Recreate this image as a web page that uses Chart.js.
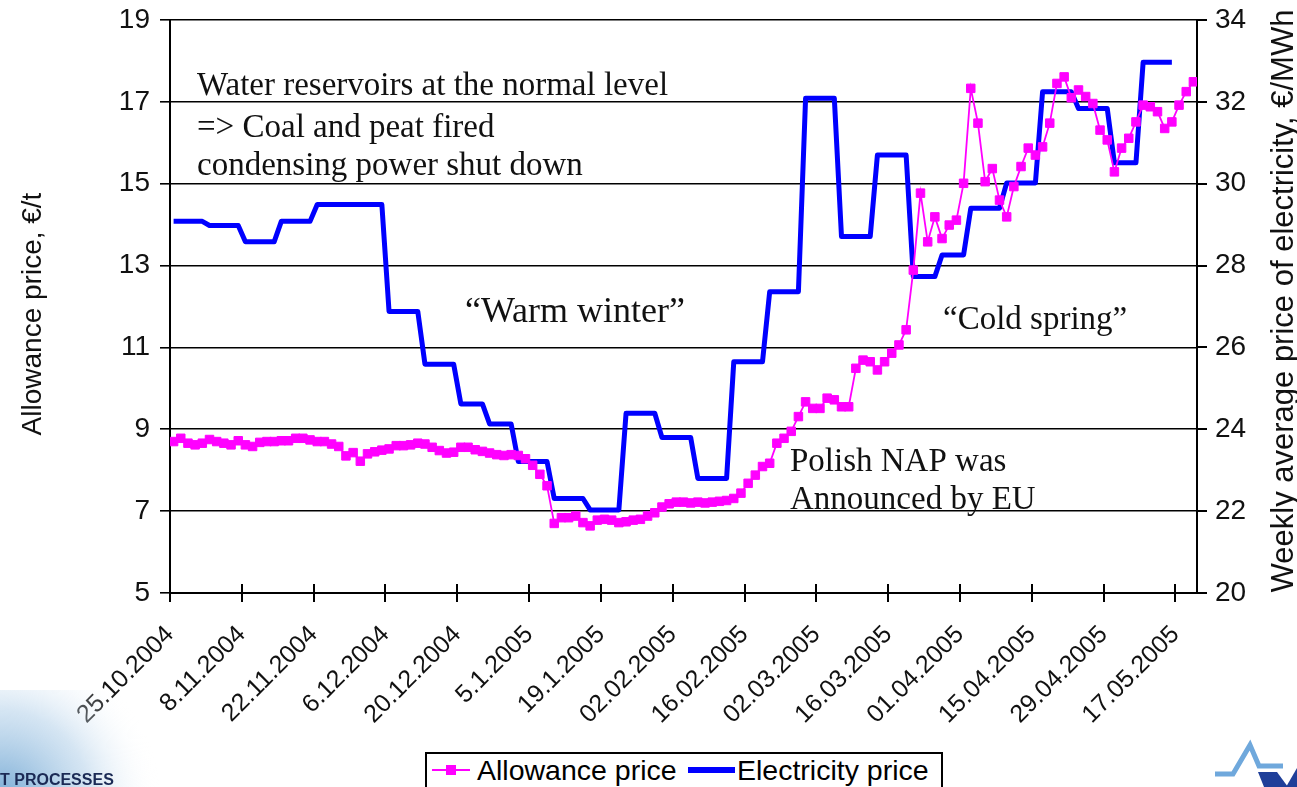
<!DOCTYPE html>
<html>
<head>
<meta charset="utf-8">
<script src="https://cdn.jsdelivr.net/npm/chart.js@4.4.1/dist/chart.umd.min.js"></script>
<style>
  html, body { margin: 0; padding: 0; background: #fff; overflow: hidden; }
  #wrap { position: relative; width: 1297px; height: 787px; }
  #legend {
    position: absolute; left: 425px; top: 752px; width: 514px; height: 60px;
    border: 2px solid #000; background: #fff;
    font-family: "Liberation Sans", Arial, sans-serif; font-size: 28.5px; color: #000;
  }
  #legend span { position: absolute; }
  .lbl { top: 0px; line-height: 33px; white-space: nowrap; }
</style>
</head>
<body>
<div id="wrap">
  <canvas id="priceChart" width="1297" height="787"></canvas>
  <div id="legend">
    <span style="left:5px; top:15px; width:38px; height:2px; background:#ff00ff;"></span>
    <span style="left:19px; top:11px; width:10px; height:10px; background:#ff00ff;"></span>
    <span class="lbl" style="left:50px;">Allowance price</span>
    <span style="left:261px; top:13px; width:47px; height:6px; background:#0000ff;"></span>
    <span class="lbl" style="left:310px;">Electricity price</span>
  </div>
</div>
<script>
// tick labels every 10 trading days
const tickLabels = [
  "25.10.2004", "8.11.2004", "22.11.2004", "6.12.2004", "20.12.2004",
  "5.1.2005", "19.1.2005", "02.02.2005", "16.02.2005", "02.03.2005",
  "16.03.2005", "01.04.2005", "15.04.2005", "29.04.2005", "17.05.2005"
];

// daily allowance price, €/t (one value per trading day)
const allowancePrice = [
  8.70, 8.78, 8.66, 8.62, 8.66, 8.75, 8.70, 8.66, 8.62, 8.72,
  8.62, 8.58, 8.68, 8.70, 8.70, 8.72, 8.72, 8.78, 8.78, 8.74,
  8.70, 8.70, 8.64, 8.58, 8.35, 8.43, 8.22, 8.40, 8.45, 8.49,
  8.52, 8.60, 8.60, 8.62, 8.66, 8.64, 8.56, 8.48, 8.42, 8.44,
  8.56, 8.56, 8.50, 8.46, 8.42, 8.38, 8.36, 8.38, 8.36, 8.28,
  8.12, 7.90, 7.62, 6.70, 6.84, 6.84, 6.88, 6.72, 6.64, 6.78,
  6.80, 6.78, 6.72, 6.74, 6.78, 6.80, 6.88, 6.96, 7.10, 7.18,
  7.22, 7.22, 7.20, 7.22, 7.20, 7.22, 7.24, 7.26, 7.31, 7.44,
  7.68, 7.88, 8.09, 8.17, 8.66, 8.78, 8.95, 9.31, 9.67, 9.51,
  9.51, 9.76, 9.72, 9.55, 9.55, 10.49, 10.69, 10.65, 10.45, 10.65,
  10.86, 11.06, 11.43, 12.89, 14.77, 13.58, 14.19, 13.66, 13.99, 14.11,
  15.01, 17.33, 16.48, 15.05, 15.37, 14.60, 14.19, 14.93, 15.42, 15.87,
  15.70, 15.90, 16.48, 17.45, 17.61, 17.10, 17.29, 17.13, 16.96, 16.31,
  16.07, 15.29, 15.87, 16.11, 16.51, 16.92, 16.88, 16.76, 16.35, 16.51,
  16.92, 17.25, 17.49
];

// weekly electricity price, €/MWh: first and last trading day of each week
const elecWeekStart = [0, 5, 10, 15, 20, 30, 35, 40, 44, 48, 53, 58, 63, 68,
  73, 78, 83, 88, 93, 98, 103, 107, 111, 116, 121, 126, 131, 135];
const elecWeekEnd = [4, 9, 14, 19, 29, 34, 39, 43, 47, 52, 57, 62, 67, 72,
  77, 82, 87, 92, 97, 102, 106, 110, 115, 120, 125, 130, 134, 139];
const elecWeekPrice = [29.08, 28.98, 28.58, 29.08, 29.49, 26.88, 25.59, 24.62, 24.13, 23.21,
  22.31, 22.03, 24.39, 23.80, 22.80, 25.65, 27.36, 32.09, 28.71, 30.70,
  27.73, 28.26, 29.40, 30.02, 32.25, 31.84, 30.51, 32.97];

const sansFont = "'Liberation Sans', Arial, sans-serif";
const serifFont = "'Liberation Serif', 'Times New Roman', serif";

const notes = [
  { text: "Water reservoirs at the normal level", x: 197, y: 95, size: 33 },
  { text: "=> Coal and peat fired", x: 197, y: 137, size: 33 },
  { text: "condensing power shut down", x: 197, y: 175, size: 33 },
  { text: "\u201cWarm winter\u201d", x: 465, y: 322, size: 36 },
  { text: "\u201cCold spring\u201d", x: 943, y: 329, size: 33 },
  { text: "Polish NAP was", x: 790, y: 471, size: 33 },
  { text: "Announced by EU", x: 790, y: 509, size: 33 }
];

function buildAllowancePoints() {
  return allowancePrice.map(function (v, i) {
    return { x: i, y: v };
  });
}

function buildElecPoints() {
  const pts = [];
  elecWeekPrice.forEach(function (v, k) {
    pts.push({ x: elecWeekStart[k], y: v });
    pts.push({ x: elecWeekEnd[k], y: v });
  });
  return pts;
}

function fixYAxis(width) {
  return function (scale) {
    scale.width = width;
    scale.paddingTop = 0;
    scale.paddingBottom = 0;
  };
}

const extrasPlugin = {
  id: "extras",
  afterDraw: function (chart) {
    const ctx = chart.ctx;
    const xScale = chart.scales.x;
    const area = chart.chartArea;

    // inner half of the x axis tick marks
    ctx.save();
    ctx.strokeStyle = "#000";
    ctx.lineWidth = 2;
    xScale.ticks.forEach(function (t) {
      const px = Math.round(xScale.getPixelForValue(t.value));
      ctx.beginPath();
      ctx.moveTo(px, area.bottom);
      ctx.lineTo(px, area.bottom - 9);
      ctx.stroke();
    });
    ctx.restore();

    // annotations
    ctx.save();
    ctx.fillStyle = "#111";
    ctx.textBaseline = "alphabetic";
    notes.forEach(function (n) {
      ctx.font = n.size + "px " + serifFont;
      ctx.fillText(n.text, n.x, n.y);
    });
    ctx.restore();

    // axis titles (both read bottom to top)
    ctx.save();
    ctx.fillStyle = "#111";
    ctx.textAlign = "center";
    ctx.textBaseline = "middle";
    ctx.translate(33, 314);
    ctx.rotate(-Math.PI / 2);
    ctx.font = "28px " + sansFont;
    ctx.fillText("Allowance price, \u20ac/t", 0, 0);
    ctx.restore();

    ctx.save();
    ctx.fillStyle = "#111";
    ctx.textAlign = "center";
    ctx.textBaseline = "middle";
    ctx.translate(1284, 301);
    ctx.rotate(-Math.PI / 2);
    ctx.font = "31px " + sansFont;
    ctx.fillText("Weekly average price of electricity, \u20ac/MWh", 0, 0);
    ctx.restore();

    // logo fragments at the bottom corners
    ctx.save();
    const g = ctx.createRadialGradient(0, 800, 5, 0, 800, 160);
    g.addColorStop(0, "rgba(110,165,210,0.9)");
    g.addColorStop(0.55, "rgba(185,212,235,0.6)");
    g.addColorStop(1, "rgba(255,255,255,0)");
    ctx.fillStyle = g;
    ctx.fillRect(0, 690, 200, 97);
    ctx.fillStyle = "#1b2a55";
    ctx.font = "bold 16px " + sansFont;
    ctx.fillText("T PROCESSES", 0, 785);

    ctx.strokeStyle = "#6fa8dc";
    ctx.lineWidth = 5;
    ctx.beginPath();
    ctx.moveTo(1215, 774);
    ctx.lineTo(1233, 774);
    ctx.lineTo(1250, 745);
    ctx.lineTo(1259, 766);
    ctx.lineTo(1283, 766);
    ctx.stroke();
    ctx.fillStyle = "#1f3f99";
    ctx.beginPath();
    ctx.moveTo(1258, 772);
    ctx.lineTo(1277, 772);
    ctx.lineTo(1288, 787);
    ctx.lineTo(1264, 787);
    ctx.closePath();
    ctx.fill();
    ctx.beginPath();
    ctx.moveTo(1286, 787);
    ctx.lineTo(1297, 768);
    ctx.lineTo(1297, 787);
    ctx.closePath();
    ctx.fill();
    ctx.restore();
  }
};

const ctx = document.getElementById("priceChart").getContext("2d");

const priceChart = new Chart(ctx, {
  type: "line",
  data: {
    datasets: [
      {
        label: "Allowance price",
        data: buildAllowancePoints(),
        yAxisID: "y",
        borderColor: "#ff00ff",
        backgroundColor: "#ff00ff",
        borderWidth: 1.8,
        pointStyle: "rect",
        pointRadius: 6,
        pointBorderWidth: 1,
        pointBackgroundColor: "#ff00ff",
        pointBorderColor: "#ff00ff",
        tension: 0,
        order: 0
      },
      {
        label: "Electricity price",
        data: buildElecPoints(),
        yAxisID: "y2",
        borderColor: "#0000ff",
        backgroundColor: "#0000ff",
        borderWidth: 5,
        borderJoinStyle: "round",
        pointRadius: 0,
        tension: 0,
        order: 1
      }
    ]
  },
  options: {
    responsive: false,
    animation: false,
    layout: { padding: { top: 20, left: 0, right: 0, bottom: 0 } },
    plugins: {
      legend: { display: false },
      tooltip: { enabled: false }
    },
    scales: {
      x: {
        type: "linear",
        min: -0.5,
        max: 142.5,
        afterBuildTicks: function (scale) {
          scale.ticks = tickLabels.map(function (label, k) {
            return { value: -0.5 + 10 * k };
          });
        },
        afterFit: function (scale) {
          scale.height = 194;
        },
        grid: { drawOnChartArea: false, color: "#000", lineWidth: 2, tickLength: 9 },
        border: { color: "#000", width: 2 },
        ticks: {
          autoSkip: false,
          minRotation: 45,
          maxRotation: 45,
          padding: 18,
          labelOffset: 0,
          color: "#111",
          font: { family: sansFont, size: 25 },
          callback: function (value, index) {
            return tickLabels[index];
          }
        }
      },
      y: {
        position: "left",
        min: 5,
        max: 19,
        afterFit: fixYAxis(170),
        grid: { color: "#000", lineWidth: 1.6, tickLength: 10 },
        border: { color: "#000", width: 2 },
        ticks: {
          stepSize: 2,
          padding: 10,
          color: "#111",
          font: { family: sansFont, size: 28 }
        }
      },
      y2: {
        position: "right",
        min: 20,
        max: 34,
        afterFit: fixYAxis(100),
        grid: { drawOnChartArea: false, color: "#000", lineWidth: 2, tickLength: 10 },
        border: { color: "#000", width: 2 },
        ticks: {
          stepSize: 2,
          padding: 8,
          color: "#111",
          font: { family: sansFont, size: 28 }
        }
      }
    }
  },
  plugins: [extrasPlugin]
});
</script>
</body>
</html>
